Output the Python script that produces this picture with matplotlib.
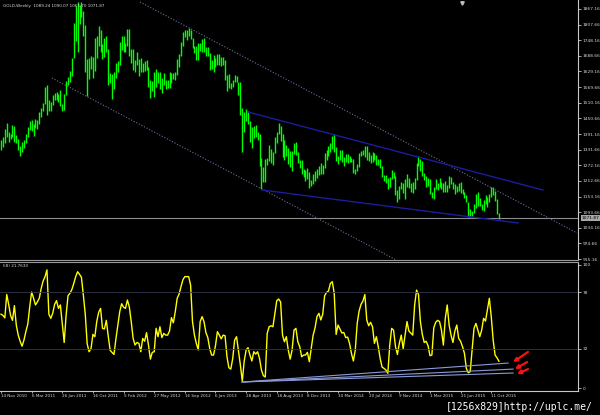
import pandas as pd
import matplotlib
matplotlib.use("Agg")
import matplotlib.pyplot as plt
import matplotlib.transforms as mtransforms

# GOLD weekly bars, 19 Nov 2010 .. 13 Nov 2015
closes = [
    1352, 1362, 1406, 1384, 1375, 1380, 1421,
    1369, 1360, 1342, 1340, 1348, 1360, 1388, 1409, 1428, 1420, 1418, 1428, 1429, 1474, 1486, 1504, 1556, 1491,
    1493, 1510, 1536, 1542, 1529, 1539, 1500, 1483, 1542, 1592, 1601, 1628, 1663, 1743, 1852, 1828, 1876, 1856,
    1811, 1657, 1622, 1636, 1683, 1641, 1744, 1755, 1788, 1724, 1685, 1745, 1711, 1597, 1606, 1565,
    1617, 1639, 1664, 1737, 1725, 1724, 1726, 1776, 1710, 1712, 1656, 1662, 1668, 1631, 1659, 1642, 1663, 1643,
    1580, 1592, 1572, 1622, 1590, 1627, 1572, 1604, 1579, 1589, 1584, 1618, 1605, 1620, 1616, 1671, 1690, 1740,
    1771, 1773, 1773, 1781, 1757, 1724, 1712, 1677, 1731, 1714, 1751, 1712, 1703, 1696, 1657, 1657,
    1656, 1662, 1687, 1658, 1667, 1667, 1609, 1573, 1576, 1577, 1592, 1608, 1596, 1581, 1476, 1403, 1462, 1470,
    1436, 1365, 1386, 1392, 1383, 1387, 1297, 1234, 1222, 1278, 1295, 1322, 1310, 1312, 1371, 1396, 1395, 1386,
    1308, 1333, 1338, 1310, 1272, 1315, 1352, 1315, 1287, 1287, 1244, 1250, 1231, 1235, 1198, 1213,
    1237, 1248, 1254, 1265, 1240, 1263, 1318, 1324, 1326, 1339, 1379, 1335, 1294, 1303, 1318, 1293, 1300, 1302,
    1289, 1293, 1292, 1245, 1252, 1274, 1315, 1316, 1320, 1337, 1310, 1303, 1294, 1309, 1305, 1280, 1287, 1268,
    1230, 1216, 1217, 1192, 1222, 1238, 1231, 1171, 1168, 1186, 1199, 1175, 1192, 1221, 1195, 1195,
    1186, 1216, 1276, 1293, 1279, 1233, 1227, 1203, 1212, 1164, 1152, 1182, 1199, 1201, 1195, 1203, 1178, 1178,
    1188, 1224, 1204, 1189, 1168, 1180, 1201, 1173, 1168, 1157, 1131, 1085, 1094, 1094, 1113, 1159, 1134, 1121,
    1108, 1137, 1145, 1137, 1156, 1177, 1163, 1141, 1088, 1071.87,
]
highs = [
    1370, 1379, 1412, 1432, 1397, 1392, 1424,
    1423, 1389, 1372, 1346, 1360, 1370, 1390, 1418, 1440, 1445, 1428, 1448, 1445, 1476, 1490, 1510, 1569, 1577,
    1522, 1514, 1539, 1548, 1551, 1543, 1559, 1504, 1545, 1594, 1610, 1631, 1682, 1814, 1877, 1893, 1884, 1893,
    1860, 1808, 1675, 1680, 1690, 1686, 1758, 1764, 1802, 1788, 1732, 1756, 1763, 1716, 1625, 1618,
    1626, 1663, 1669, 1740, 1764, 1763, 1738, 1790, 1792, 1715, 1715, 1672, 1704, 1677, 1680, 1661, 1668, 1672,
    1646, 1597, 1593, 1626, 1640, 1628, 1628, 1606, 1625, 1598, 1596, 1626, 1625, 1623, 1626, 1675, 1694, 1740,
    1778, 1786, 1787, 1795, 1789, 1755, 1728, 1725, 1736, 1737, 1754, 1755, 1723, 1723, 1700, 1673,
    1693, 1680, 1694, 1696, 1684, 1684, 1674, 1617, 1620, 1584, 1596, 1617, 1612, 1589, 1590, 1490, 1476, 1488,
    1478, 1439, 1416, 1420, 1424, 1397, 1393, 1299, 1267, 1297, 1299, 1348, 1333, 1323, 1378, 1399, 1433, 1423,
    1390, 1367, 1348, 1337, 1326, 1327, 1356, 1361, 1321, 1292, 1292, 1259, 1253, 1262, 1245, 1217,
    1240, 1250, 1256, 1270, 1280, 1272, 1320, 1332, 1345, 1355, 1385, 1392, 1343, 1309, 1331, 1331, 1305, 1315,
    1315, 1306, 1298, 1295, 1256, 1278, 1320, 1327, 1332, 1345, 1347, 1322, 1312, 1322, 1320, 1310, 1297, 1295,
    1271, 1236, 1236, 1223, 1228, 1255, 1248, 1233, 1178, 1192, 1208, 1206, 1220, 1238, 1223, 1205,
    1210, 1224, 1282, 1307, 1295, 1288, 1244, 1231, 1225, 1218, 1170, 1188, 1219, 1206, 1224, 1209, 1205, 1214,
    1197, 1232, 1228, 1210, 1199, 1194, 1205, 1208, 1180, 1170, 1160, 1131, 1105, 1097, 1123, 1162, 1170, 1147,
    1125, 1141, 1157, 1152, 1161, 1191, 1191, 1176, 1145, 1090.07,
]
lows = [
    1330, 1340, 1355, 1378, 1360, 1371, 1378,
    1362, 1355, 1330, 1308, 1324, 1337, 1355, 1380, 1406, 1404, 1382, 1415, 1410, 1428, 1455, 1480, 1505, 1462,
    1478, 1480, 1501, 1522, 1520, 1512, 1496, 1478, 1482, 1540, 1577, 1590, 1612, 1680, 1745, 1705, 1811, 1835,
    1765, 1627, 1535, 1600, 1640, 1603, 1630, 1680, 1725, 1703, 1675, 1685, 1705, 1577, 1585, 1523,
    1562, 1605, 1627, 1655, 1710, 1705, 1703, 1727, 1688, 1660, 1635, 1627, 1653, 1612, 1629, 1627, 1632, 1633,
    1570, 1527, 1555, 1533, 1571, 1584, 1563, 1547, 1576, 1562, 1567, 1565, 1585, 1599, 1598, 1614, 1648, 1688,
    1726, 1759, 1750, 1765, 1752, 1718, 1698, 1672, 1673, 1706, 1705, 1705, 1687, 1690, 1635, 1640,
    1626, 1645, 1655, 1655, 1651, 1655, 1598, 1554, 1565, 1561, 1570, 1590, 1590, 1540, 1465, 1321, 1400, 1442,
    1428, 1359, 1338, 1375, 1381, 1367, 1270, 1180, 1208, 1210, 1272, 1290, 1282, 1273, 1317, 1355, 1392, 1365,
    1304, 1293, 1309, 1278, 1266, 1251, 1315, 1310, 1280, 1262, 1237, 1227, 1212, 1221, 1185, 1194,
    1202, 1212, 1225, 1235, 1238, 1238, 1262, 1294, 1309, 1322, 1335, 1322, 1290, 1277, 1291, 1283, 1268, 1285,
    1280, 1284, 1283, 1243, 1240, 1251, 1264, 1308, 1310, 1305, 1291, 1287, 1281, 1286, 1291, 1273, 1274, 1261,
    1227, 1214, 1206, 1183, 1190, 1221, 1225, 1160, 1132, 1145, 1180, 1166, 1142, 1188, 1187, 1172,
    1167, 1183, 1216, 1270, 1250, 1231, 1217, 1191, 1195, 1162, 1148, 1142, 1180, 1178, 1190, 1183, 1172, 1170,
    1169, 1184, 1201, 1182, 1162, 1170, 1175, 1168, 1161, 1147, 1131, 1077, 1077, 1080, 1092, 1110, 1118, 1117,
    1101, 1098, 1124, 1113, 1131, 1150, 1159, 1137, 1085, 1065.70,
]

# RSI(8) sub-window values, one per bar
rsi_values = [
    60, 59, 57, 76, 68, 59, 55, 67, 51, 43,
    38, 34, 39, 46, 52, 66, 78, 73, 67.5, 70,
    73, 81, 87, 90.5, 96, 60, 56.6, 60.7, 68, 71,
    64.7, 67.5, 52.5, 37, 59, 75, 77, 80, 85, 90.5,
    94.5, 92.4, 90, 75.6, 60, 36, 29.5, 32, 43.6, 41.7,
    54, 61.5, 64.7, 48.5, 48, 55, 42.2, 30.6, 29, 27.3,
    39.8, 50.6, 62, 68.5, 65.6, 64.7, 71.5, 66, 54, 40.3,
    35, 37, 36.3, 29.5, 40.3, 38, 45, 35, 23.5, 29,
    29.5, 48.5, 41.7, 49.8, 41, 44.4, 43, 43, 46.3, 57.2,
    53, 62, 72.9, 76.4, 82.4, 88, 90.5, 90.5, 90.5, 83.7,
    54, 43, 36.3, 31, 54, 58, 54, 45, 41, 32,
    26.8, 26.8, 34.4, 45.8, 43, 40, 43, 42.5, 25.4, 16.5,
    15.4, 24, 39, 41.7, 30, 18.7, 5.5, 22, 30.9, 32.8,
    26.8, 22, 29.5, 27.6, 29.5, 24, 14.6, 10, 9, 44.4,
    49.8, 50.6, 49.8, 60.7, 71, 72.3, 70, 43, 37.6, 41.7,
    30.9, 23.5, 30.9, 47, 48.5, 37.6, 33.6, 25.4, 26.8, 26.8,
    29, 21.4, 32.2, 43, 49, 58, 60.7, 55.3, 60, 75,
    77.7, 78.8, 85, 86.4, 76.9, 43.6, 51.2, 48, 44.7, 45.2,
    41, 41.4, 36.3, 28.2, 22, 30.9, 52.5, 62.6, 68, 70.7,
    76, 55.3, 50.6, 53.4, 49.8, 36.3, 41.7, 33.6, 24, 17,
    16, 14.6, 12, 34.9, 48.5, 47, 33.6, 27.3, 36.3, 43,
    32, 43, 54, 46.3, 44.7, 43, 67.5, 79.6, 76.1, 54,
    43.6, 37, 38, 34.4, 26.3, 26.8, 49, 53.4, 55, 54,
    47, 34.9, 56.6, 67.5, 51.2, 43, 37, 46.3, 51.2, 40.3,
    38, 33.6, 28.2, 16, 12.4, 13.3, 30.9, 48.5, 52.5, 47,
    41.7, 47, 56.6, 54.4, 63.4, 72.9, 58, 39, 26.8, 24.6,
    21.76,
]

assert len(closes) == len(highs) == len(lows) == len(rsi_values)

price_ticks = [1867.16, 1807.66, 1748.16, 1688.66, 1629.16, 1569.66, 1510.16, 1450.66,
               1391.16, 1331.66, 1272.16, 1212.66, 1153.16, 1093.66, 1034.16, 974.66, 915.16]
rsi_ticks = [100, 78, 32, 0]
rsi_levels = [78, 32]
first_bar_date = "2010-11-14"

title_text = "GOLD,Weekly  1089.24 1090.07 1065.70 1071.87"
rsi_text = "I(8) 21.7630"
watermark = "[1256x829]http://uplc.me/"

# hand-drawn objects on the chart: (bar, price) end points
channel_lines = [[(72.6, 1893.8), (300.8, 1014.2)],
                 [(26.6, 1604.4), (215.0, 878.3)]]
wedge_lines = [[(129.0, 1474.9), (283.0, 1177.9)],
               [(136.3, 1177.9), (270.0, 1052.3)]]
# (bar, rsi) end points in the RSI window
rsi_trend_lines = [[(125.9, 4.9), (264.8, 20.3)],
                   [(125.9, 4.9), (267.4, 15.4)],
                   [(125.9, 4.9), (267.4, 12.2)]]
rsi_arrows = [((275.2, 29.3), (267.4, 21.1)),
              ((274.7, 21.1), (268.4, 15.4)),
              ((275.2, 15.4), (269.5, 11.4))]

n = len(closes)
bars = list(range(n))
last_price = closes[-1]
bar_dates = pd.date_range(first_bar_date, periods=n, freq="7D")

axis_col = "#c8c8c8"
text_col = "#d8d8d8"

fig = plt.figure(figsize=(6, 4.15), dpi=100, facecolor="black")
ax = fig.add_axes([0, 1 - 260 / 415, 578 / 600, 260 / 415], facecolor="black")
ax_rsi = fig.add_axes([0, 1 - 391 / 415, 578 / 600, 129 / 415], facecolor="black")

# ---- price window ----
ax.vlines(bars, lows, highs, color="#00ff00", linewidth=1.0)
ax.axhline(last_price, color="#8c8c8c", linewidth=0.8)

for (x0, y0), (x1, y1) in channel_lines:
    ax.plot([x0, x1], [y0, y1], color="#6e6e9e", linestyle=(0, (1, 1.6)), linewidth=0.8)
for (x0, y0), (x1, y1) in wedge_lines:
    ax.plot([x0, x1], [y0, y1], color="#1c1ca0", linewidth=1.0)

ax.set_xlim(-0.52, 301.3)
ax.set_ylim(911.4, 1901.4)
ax.set_xticks([])
ax.yaxis.tick_right()
ax.set_yticks(price_ticks)
ax.set_yticklabels([f"{p:.2f}" for p in price_ticks])
ax.tick_params(axis="y", colors=axis_col, labelcolor=text_col, labelsize=3.2,
               length=2, width=0.6, pad=1.2)
for side in ["top", "left"]:
    ax.spines[side].set_visible(False)
ax.spines["right"].set_color(axis_col)
ax.spines["bottom"].set_color("#9a9a9a")
ax.spines["right"].set_linewidth(0.8)
ax.spines["bottom"].set_linewidth(0.8)

# current price tag on the scale
tag = mtransforms.blended_transform_factory(ax.transAxes, ax.transData)
ax.text(1.006, last_price, f"{last_price:.2f}", transform=tag, fontsize=3.2, color="black",
        ha="left", va="center", clip_on=False,
        bbox=dict(boxstyle="square,pad=0.15", facecolor="#a8a8a8", edgecolor="none"))

ax.text(0.005, 0.985, title_text, transform=ax.transAxes, fontsize=3.0, color=text_col,
        ha="left", va="top")
# chart shift marker
ax.plot([462 / 578], [1 - 3 / 260], marker="v", markersize=2.5, color="#bdbdbd",
        transform=ax.transAxes, clip_on=False)

# ---- RSI window ----
ax_rsi.plot(bars, rsi_values, color="#ffff00", linewidth=1.0)
for lv in rsi_levels:
    ax_rsi.axhline(lv, color="#34344a", linewidth=0.6)
for (x0, y0), (x1, y1) in rsi_trend_lines:
    ax_rsi.plot([x0, x1], [y0, y1], color="#8a9ad8", linewidth=0.8)
for (tx, ty), (hx, hy) in rsi_arrows:
    ax_rsi.annotate("", xy=(hx, hy), xytext=(tx, ty),
                    arrowprops=dict(arrowstyle="-|>", color="#ff1010", lw=1.6,
                                    mutation_scale=5, shrinkA=0, shrinkB=0))

ax_rsi.set_xlim(-0.52, 301.3)
ax_rsi.set_ylim(-2.4, 102.4)
ax_rsi.yaxis.tick_right()
ax_rsi.set_yticks(rsi_ticks)
ax_rsi.tick_params(axis="y", colors=axis_col, labelcolor=text_col, labelsize=3.2,
                   length=2, width=0.6, pad=1.2)

date_ticks = bars[::16]
ax_rsi.set_xticks(date_ticks)
ax_rsi.set_xticklabels([f"{d.day} {d.strftime('%b %Y')}" for d in bar_dates[::16]], ha="left")
ax_rsi.tick_params(axis="x", colors=axis_col, labelcolor=text_col, labelsize=3.0,
                   length=1.5, width=0.6, pad=0.8)
ax_rsi.spines["left"].set_visible(False)
for side in ["top", "right", "bottom"]:
    ax_rsi.spines[side].set_color(axis_col)
    ax_rsi.spines[side].set_linewidth(0.8)
ax_rsi.spines["top"].set_color("#9a9a9a")

ax_rsi.text(0.005, 0.985, rsi_text, transform=ax_rsi.transAxes, fontsize=3.0, color=text_col,
            ha="left", va="top")

fig.text(446 / 600, 1 - 410 / 415, watermark, color="white", fontsize=7.0,
         family="DejaVu Sans Mono", ha="left", va="baseline")

fig.savefig("out.png", dpi=100, facecolor="black")
